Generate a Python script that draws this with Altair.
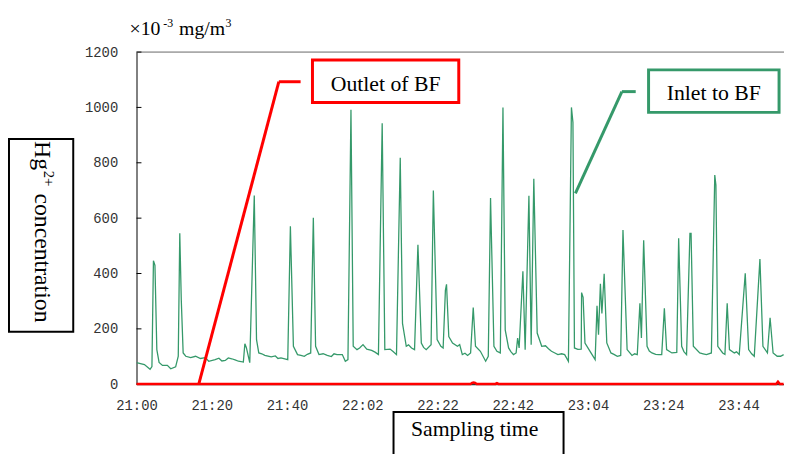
import json
import altair as alt
import pandas as pd

# ---------------- data ----------------
inlet_t = [0.0, 2.1, 3.6, 4.1, 4.5, 4.9, 5.4, 6.0, 6.9, 8.2,
           9.1, 10.4, 11.1, 11.5, 11.9, 12.4, 13.1, 14.4, 15.7, 17.0,
           18.3, 19.2, 20.9, 21.9, 22.7, 23.6, 24.4, 25.3, 26.2, 27.1, 28.4, 28.8, 29.2, 30.1,
           31.3, 31.9, 32.5, 33.3, 34.1, 35.8, 36.9, 37.6, 38.4, 40.2, 40.9, 41.7, 42.8,
           43.7, 44.6, 45.4, 46.3, 47.0, 47.6, 48.5, 49.6, 50.7, 51.8, 52.5, 53.3, 54.7, 55.5, 56.2,
           57.0, 57.6, 58.6, 59.3, 60.2, 61.2, 62.5, 63.4, 64.3, 65.3, 66.0,
           67.4, 68.2, 69.1, 70.1, 70.7, 71.7, 72.3, 73.1, 73.9, 74.8, 75.7, 76.3, 77.0,
           78.3, 78.9, 79.9, 80.9, 81.5, 82.1, 82.4, 83.0, 84.0, 85.3,
           85.9, 86.6, 87.3, 88.0, 88.8, 89.5, 90.1, 91.4, 92.8, 93.5, 94.1,
           95.0, 95.8, 96.7, 97.4, 98.0, 98.9, 99.5, 100.2, 100.9, 101.3, 101.7,
           102.7, 103.3, 104.3, 104.9, 105.6, 106.5, 107.7, 108.7, 109.5, 110.3, 111.2, 112.0,
           113.0, 113.8, 114.8, 115.6, 116.0, 116.4, 117.3, 118.2, 118.3, 118.7, 119.2, 120.8,
           121.9, 122.4, 122.8, 123.3, 123.7, 124.3, 125.0, 126.1, 126.9, 127.8, 128.7,
           129.3, 130.4, 131.7, 132.4, 133.1, 133.8, 134.2, 134.8, 135.7, 136.3, 137.0, 138.0, 138.8,
           139.6, 140.3, 140.9, 142.3, 143.6, 144.1, 144.9, 145.5, 146.2, 147.1, 147.4,
           148.0, 149.7, 150.6, 151.5, 152.8, 153.7, 154.0, 154.5, 155.8, 156.4, 157.0, 157.6,
           158.9, 159.5, 160.2, 161.8, 162.7, 163.5, 164.2, 165.7, 166.5, 167.7, 168.4, 169.2,
           170.3, 171.2, 172.0]
inlet_v = [78, 71, 54, 64, 446, 429, 125, 79, 68, 68,
           56, 63, 101, 545, 304, 113, 101, 96, 101, 93,
           96, 83, 89, 94, 84, 86, 95, 92, 88, 83, 80, 146, 132, 78,
           682, 161, 113, 110, 104, 99, 102, 93, 95, 89, 571, 137, 107,
           104, 101, 108, 113, 601, 137, 107, 110, 104, 100, 110, 107, 107, 83, 89,
           992, 137, 125, 131, 143, 127, 122, 116, 107, 943, 125,
           127, 118, 107, 818, 220, 137, 142, 131, 125, 504, 149, 133, 125,
           143, 700, 161, 137, 131, 339, 361, 172, 149, 137,
           143, 107, 112, 104, 113, 277, 137, 119, 83, 101, 673,
           137, 119, 113, 1000, 196, 131, 118, 107, 113, 167, 131,
           408, 125, 681, 143, 742, 185, 137, 139, 128, 119, 113, 107,
           110, 107, 83, 1000, 946, 131, 126, 127, 331, 314, 149, 113,
           89, 283, 179, 363, 256, 399, 149, 113, 108, 101, 104,
           557, 125, 104, 110, 107, 292, 167, 520, 137, 120, 113, 108, 107,
           107, 274, 125, 113, 115, 527, 137, 118, 107, 545, 545,
           137, 113, 110, 107, 113, 756, 720, 137, 113, 108, 292, 125,
           113, 117, 107, 401, 125, 110, 101, 452, 137, 113, 240, 113,
           101, 101, 107]

outlet_t = [0.0, 88.8, 89.2, 89.6, 90.0, 90.4, 95.4, 95.8, 96.2, 170.0, 170.5, 171.0, 172.0]
outlet_v = [1, 1, 5, 6, 5, 1, 1, 4, 1, 1, 9, 1, 1]

y_ticks = [0, 200, 400, 600, 800, 1000, 1200]
x_tick_pos = [0, 20, 40, 60, 80, 100, 120, 140, 160]
x_tick_labels = ["21:00", "21:20", "21:40", "22:02", "22:22", "22:42", "23:04", "23:24", "23:44"]

assert len(inlet_t) == len(inlet_v)
assert len(outlet_t) == len(outlet_v)

# ---------------- layout ----------------
W, H = 655, 336
XMAX = 172.1
GREEN = "#35996a"
RED = "#ff0000"
SERIF = "Liberation Serif"
MONO = "Liberation Mono"

inlet = pd.DataFrame({"t": inlet_t, "v": inlet_v})
outlet = pd.DataFrame({"t": outlet_t, "v": outlet_v})
ticks_df = pd.DataFrame({"v": y_ticks})
one = pd.DataFrame({"k": [0]})

label_expr = json.dumps(x_tick_labels) + "[round(datum.value / 20)]"

xaxis = alt.Axis(values=x_tick_pos, labelExpr=label_expr, ticks=False, tickSize=0,
                 grid=False, domain=True, domainColor="black", domainWidth=1,
                 labelFont=MONO, labelFontSize=14, labelColor="#333333",
                 labelPadding=15, labelFlush=False, labelOverlap=False, title=None)
yaxis = alt.Axis(values=y_ticks, format="d", ticks=False, tickSize=0, grid=False, domain=True,
                 domainColor="black", domainWidth=1, labelFont=MONO, labelFontSize=14,
                 labelColor="#333333", labelPadding=19, labelOverlap=False, title=None)

xenc = alt.X("t:Q", scale=alt.Scale(domain=[0, XMAX], nice=False, zero=False), axis=xaxis)
yenc = alt.Y("v:Q", scale=alt.Scale(domain=[0, 1200], nice=False), axis=yaxis)

top_rule = alt.Chart(one).mark_rule(color="#666666", strokeWidth=1).encode(
    x=alt.value(0), x2=alt.value(W), y=alt.value(0))

inner_ticks = alt.Chart(ticks_df).mark_rule(color="black", strokeWidth=1).encode(
    y=yenc, x=alt.value(0), x2=alt.value(5))

inlet_line = alt.Chart(inlet).mark_line(color=GREEN, strokeWidth=1.3, clip=True).encode(
    x=xenc, y=yenc)
outlet_line = alt.Chart(outlet).mark_line(color=RED, strokeWidth=2.5).encode(
    x=xenc, y=yenc)


def rule(x1, y1, x2, y2, color, w=3):
    return alt.Chart(one).mark_rule(color=color, strokeWidth=w).encode(
        x=alt.value(x1), y=alt.value(y1), x2=alt.value(x2), y2=alt.value(y2))


def box(x1, y1, x2, y2, color, w=3):
    return alt.Chart(one).mark_rect(fill="white", stroke=color, strokeWidth=w).encode(
        x=alt.value(x1), y=alt.value(y1), x2=alt.value(x2), y2=alt.value(y2))


def text(s, x, y, size=22, align="center", angle=0, font=SERIF):
    return alt.Chart(one).mark_text(text=s, font=font, fontSize=size, align=align,
                                    baseline="alphabetic", angle=angle, color="black").encode(
        x=alt.value(x), y=alt.value(y))


layers = [
    top_rule,
    inner_ticks,
    inlet_line,
    outlet_line,
    # Outlet annotation
    rule(144, 30, 166, 30, RED),
    rule(144, 30, 63, 336, RED),
    box(178, 8, 326, 51, RED),
    text("Outlet of BF", 252, 39),
    # Inlet annotation
    rule(491, 40, 505, 40, GREEN),
    rule(491, 40, 444, 143, GREEN),
    box(518, 18, 650, 61, GREEN),
    text("Inlet to BF", 584, 48),
    # unit label
    text("×10", -7, -17, size=20, align="left"),
    text("-3", 27, -25, size=12, align="left"),
    text("mg/m", 43, -17, size=20, align="left"),
    text("3", 90, -25, size=12, align="left"),
    # y title box
    box(-129, 88, -64, 283, "black", w=2),
    text("Hg", -103, 90, size=24, align="left", angle=90),
    text("2+", -94, 120, size=15, align="left", angle=90),
    text("concentration", -103, 143, size=24, align="left", angle=90),
    # x title box
    box(260, 364, 432, 430, "black", w=2),
    text("Sampling time", 342, 388),
]

chart = alt.layer(*layers).properties(
    width=W, height=H,
    padding={"left": 130, "top": 42, "right": 0, "bottom": 68},
    autosize=alt.AutoSizeParams(type="none"),
    background="white",
).configure_view(stroke=None)

chart.save("out.html", embed_options={"renderer": "svg", "actions": False})
